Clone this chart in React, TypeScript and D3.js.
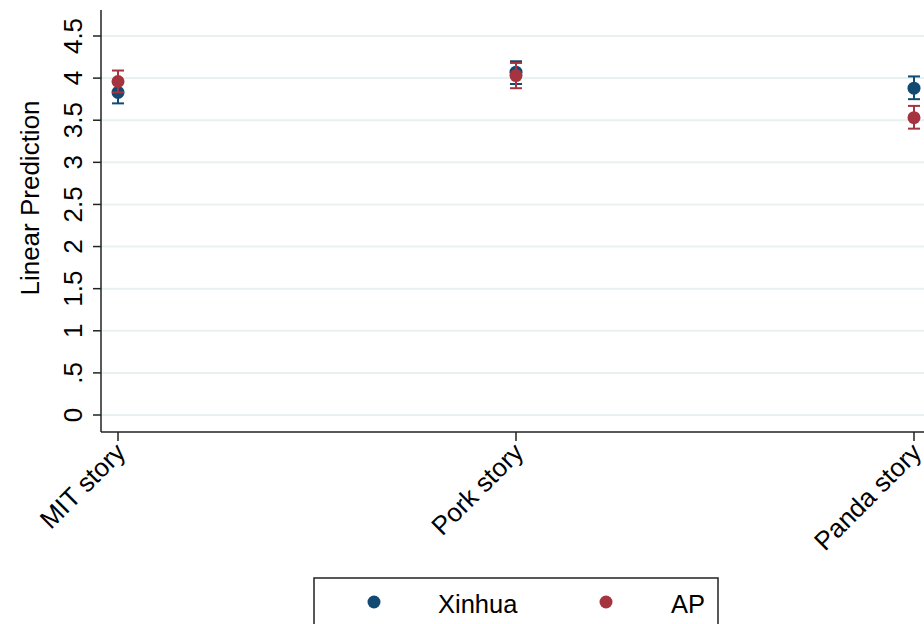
import React from "react";
import * as d3 from "d3";

const categories = ["MIT story", "Pork story", "Panda story"];
const seriesNames = ["Xinhua", "AP"];
const xinhuaMean = [3.83, 4.07, 3.88];
const xinhuaLo = [3.70, 3.93, 3.75];
const xinhuaHi = [3.97, 4.20, 4.02];
const apMean = [3.96, 4.03, 3.53];
const apLo = [3.83, 3.88, 3.40];
const apHi = [4.09, 4.18, 3.67];
const yTicks = [0, 0.5, 1, 1.5, 2, 2.5, 3, 3.5, 4, 4.5];
const yTickLabels = ["0", ".5", "1", "1.5", "2", "2.5", "3", "3.5", "4", "4.5"];
const colors = ["#124a72", "#a63440"];

const W = 924;
const H = 624;
const FONT = "'Liberation Sans', Arial, Helvetica, sans-serif";

export default function App() {
  const x = d3.scalePoint<string>().domain(categories).range([118, 914]);
  const y = d3.scaleLinear().domain([0, 4.5]).range([415, 36]);
  const axisX = 101;
  const axisY = 432;
  const series = [
    { name: seriesNames[0], mean: xinhuaMean, lo: xinhuaLo, hi: xinhuaHi, color: colors[0] },
    { name: seriesNames[1], mean: apMean, lo: apLo, hi: apHi, color: colors[1] },
  ];
  const cap = 6;
  return (
    <svg width={W} height={H} style={{ position: "absolute", left: 0, top: 0, background: "#fff" }}>
      <rect x={0} y={0} width={W} height={H} fill="#fff" />
      {yTicks.map((t) => (
        <line key={"g" + t} x1={axisX} x2={W} y1={y(t)} y2={y(t)} stroke="#e8f1f2" strokeWidth={2} />
      ))}
      <line x1={axisX} x2={axisX} y1={10} y2={axisY} stroke="#222" strokeWidth={1.5} />
      {yTicks.map((t, i) => (
        <g key={"yt" + t}>
          <line x1={axisX - 8} x2={axisX} y1={y(t)} y2={y(t)} stroke="#222" strokeWidth={1.5} />
          <text
            transform={`translate(${82},${y(t)}) rotate(-90)`}
            textAnchor="middle"
            fontFamily={FONT}
            fontSize={26}
            fill="#000"
          >
            {yTickLabels[i]}
          </text>
        </g>
      ))}
      <text
        transform={`translate(${39},${198}) rotate(-90)`}
        textAnchor="middle"
        fontFamily={FONT}
        fontSize={26}
        fill="#000"
      >
        Linear Prediction
      </text>
      <line x1={axisX} x2={W} y1={axisY} y2={axisY} stroke="#222" strokeWidth={1.5} />
      {categories.map((c) => (
        <g key={"xt" + c}>
          <line x1={x(c)!} x2={x(c)!} y1={axisY} y2={axisY + 9} stroke="#222" strokeWidth={1.5} />
          <text
            transform={`translate(${x(c)! + 9},${axisY + 22}) rotate(-45)`}
            textAnchor="end"
            fontFamily={FONT}
            fontSize={26}
            fill="#000"
          >
            {c}
          </text>
        </g>
      ))}
      {series.map((s) => (
        <g key={s.name}>
          {categories.map((c, i) => (
            <g key={c}>
              <line x1={x(c)!} x2={x(c)!} y1={y(s.lo[i])} y2={y(s.hi[i])} stroke={s.color} strokeWidth={2} />
              <line x1={x(c)! - cap} x2={x(c)! + cap} y1={y(s.lo[i])} y2={y(s.lo[i])} stroke={s.color} strokeWidth={2} />
              <line x1={x(c)! - cap} x2={x(c)! + cap} y1={y(s.hi[i])} y2={y(s.hi[i])} stroke={s.color} strokeWidth={2} />
              <circle cx={x(c)!} cy={y(s.mean[i])} r={6.5} fill={s.color} />
            </g>
          ))}
        </g>
      ))}
      <rect x={314} y={578} width={404} height={60} fill="#fff" stroke="#222" strokeWidth={1.5} />
      <circle cx={374} cy={602} r={6.5} fill={colors[0]} />
      <text x={438} y={613} fontFamily={FONT} fontSize={25.5} fill="#000">{seriesNames[0]}</text>
      <circle cx={606} cy={602} r={6.5} fill={colors[1]} />
      <text x={671} y={613} fontFamily={FONT} fontSize={25.5} fill="#000">{seriesNames[1]}</text>
    </svg>
  );
}
